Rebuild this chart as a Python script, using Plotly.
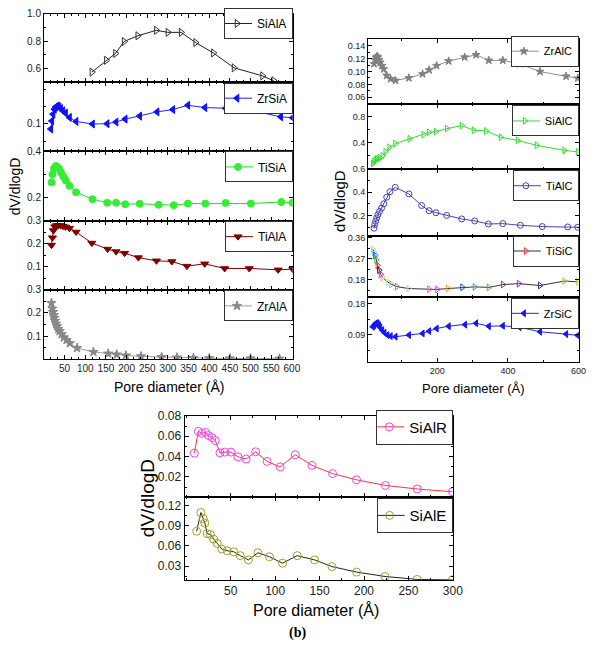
import plotly.graph_objects as go

# ---------------- data ----------------
SiAlA_x = [116, 151, 173, 194, 227, 272, 300, 332, 367, 410, 460, 529, 556]
SiAlA_y = [0.574, 0.66, 0.71, 0.798, 0.84, 0.88, 0.865, 0.865, 0.79, 0.714, 0.605, 0.546, 0.51]

ZrSiA_x = [16.6, 19, 22.1, 25.3, 28.5, 32.5, 36.4, 40.4, 46, 52.3, 61.8, 77.7, 117.4, 153, 174.5, 196.7, 231.7, 273.8, 311.9, 348.3, 389.6, 439.6, 496.7, 572.9, 602]
ZrSiA_y = [0.0924, 0.104, 0.1138, 0.121, 0.1243, 0.1257, 0.1243, 0.1219, 0.1186, 0.1153, 0.109, 0.1033, 0.0996, 0.1, 0.1024, 0.1067, 0.111, 0.1171, 0.1205, 0.1267, 0.1233, 0.1224, 0.12, 0.11, 0.1086]

TiSiA_x = [18.2, 20.6, 24.5, 28.5, 32.5, 36.4, 41.2, 46.7, 53.1, 61.8, 77.7, 117.4, 153, 174.5, 196.7, 231.7, 277.7, 314.2, 348.3, 390.4, 439.6, 500.7, 574.5, 602]
TiSiA_y = [0.266, 0.301, 0.326, 0.337, 0.333, 0.326, 0.309, 0.291, 0.274, 0.251, 0.223, 0.193, 0.178, 0.178, 0.171, 0.173, 0.169, 0.167, 0.174, 0.174, 0.177, 0.174, 0.181, 0.178]

TiAlA_x = [18.2, 20.6, 22.9, 26.1, 30.1, 34.9, 40.4, 46, 52.3, 61.8, 77.7, 115.8, 153.9, 174.5, 195.2, 228.5, 272.2, 309.5, 346, 388.9, 437.3, 496.8, 566.7, 602]
TiAlA_y = [0.194, 0.226, 0.257, 0.274, 0.279, 0.279, 0.279, 0.276, 0.273, 0.267, 0.251, 0.203, 0.177, 0.166, 0.159, 0.14, 0.126, 0.123, 0.103, 0.113, 0.093, 0.093, 0.087, 0.09]

ZrAlA_x = [18.2, 20.6, 22.1, 23.7, 25.3, 26.9, 29.3, 31.7, 34.9, 38, 42.8, 48.3, 54.7, 62.6, 80, 119.7, 155.4, 176, 198.3, 234.8, 284.8, 322, 361.7, 400, 450, 500, 570]
ZrAlA_y = [0.243, 0.219, 0.204, 0.19, 0.179, 0.166, 0.154, 0.143, 0.131, 0.121, 0.108, 0.094, 0.083, 0.069, 0.048, 0.031, 0.024, 0.02, 0.016, 0.012, 0.009, 0.007, 0.005, 0.004, 0.003, 0.003, 0.002]

ZrAlC_x = [20.9, 23.7, 26.5, 29.3, 32, 34.8, 38.5, 43, 48.6, 56.9, 67.9, 81.8, 119.7, 158.4, 176.9, 198.1, 232.3, 277.6, 309.9, 346, 385.6, 433.6, 490.9, 564.8, 598]
ZrAlC_y = [0.112, 0.118, 0.1219, 0.1234, 0.1223, 0.118, 0.1142, 0.109, 0.1038, 0.0937, 0.0885, 0.086, 0.09, 0.0962, 0.1023, 0.109, 0.1162, 0.1223, 0.126, 0.1172, 0.1172, 0.112, 0.0998, 0.0926, 0.0895]

SiAlC_x = [18, 21.8, 25.5, 29.3, 33.9, 38.5, 45, 53.3, 64.4, 81, 121.6, 161.2, 176.9, 196.3, 227.7, 269.3, 303.4, 338.5, 380, 428, 481.7, 560, 598]
SiAlC_y = [0.079, 0.114, 0.134, 0.144, 0.155, 0.164, 0.195, 0.255, 0.327, 0.383, 0.459, 0.524, 0.559, 0.57, 0.615, 0.661, 0.59, 0.58, 0.483, 0.433, 0.357, 0.281, 0.255]

TiAlC_x = [20.9, 22.8, 25.5, 28.3, 32, 36.6, 42.1, 48.6, 56.9, 66.1, 81, 119.7, 155.7, 176.9, 196.3, 226.7, 269.2, 306.1, 344.9, 385.5, 435.4, 497.2, 569.3, 598]
TiAlC_y = [0.092, 0.123, 0.151, 0.179, 0.207, 0.235, 0.263, 0.3, 0.356, 0.403, 0.44, 0.384, 0.285, 0.241, 0.224, 0.201, 0.171, 0.154, 0.128, 0.131, 0.117, 0.106, 0.103, 0.1]

TiSiC_x = [18, 21, 24, 27.5, 31, 35.5, 40, 45, 51, 60, 70, 86, 119, 177, 200, 230, 271, 306, 346, 386, 431, 491, 560, 598]
TiSiC_y = [0.31, 0.298, 0.284, 0.265, 0.242, 0.221, 0.203, 0.19, 0.18, 0.17, 0.16, 0.15, 0.142, 0.139, 0.138, 0.142, 0.147, 0.149, 0.147, 0.159, 0.163, 0.155, 0.174, 0.171]
TiSiC_colors = ['#ffcc33', '#66ddff', '#3355ff', '#33cc33', '#ff3333', '#222222', '#cc33aa', '#ff88cc',
                '#ffff66', '#aaeebb', '#aaaaaa', '#999999', '#cccccc', '#ff55cc', '#bb44ff', '#ff9933',
                '#3344cc', '#33aaaa', '#55bb44', '#cc3355', '#9933bb', '#333399', '#aacc33', '#cccc33']

ZrSiC_x = [17.2, 20.9, 24.6, 28.3, 31, 34.7, 38.4, 44, 50.4, 58.7, 68, 81.8, 119.7, 158.4, 176.9, 198.1, 232.3, 278.5, 309.9, 346, 385.6, 432.7, 490.9, 564.8, 598]
ZrSiC_y = [0.1136, 0.118, 0.123, 0.125, 0.123, 0.118, 0.1116, 0.1039, 0.0964, 0.0895, 0.0866, 0.0849, 0.0895, 0.0944, 0.101, 0.1087, 0.1154, 0.12, 0.124, 0.1154, 0.1165, 0.1125, 0.0992, 0.0924, 0.0886]

SiAlR_x = [9, 13.5, 17.5, 21.6, 24.9, 28.9, 32.6, 37.8, 43.3, 50.3, 58.1, 67.3, 78, 90.9, 105.6, 122.6, 141.4, 164.6, 191.6, 224, 259.8, 299.5]
SiAlR_y = [0.0434, 0.0648, 0.0628, 0.0638, 0.0606, 0.0586, 0.0557, 0.0437, 0.0444, 0.0444, 0.0398, 0.0376, 0.0447, 0.0353, 0.0298, 0.0418, 0.0314, 0.0233, 0.0172, 0.0117, 0.0082, 0.0055]

SiAlE_x = [11.6, 16.4, 19, 20.8, 23.4, 27.1, 30.8, 34.8, 40, 45.9, 53.3, 60.7, 69.9, 80.6, 93.5, 108.2, 124.8, 144.4, 163.9, 191.6, 223.6, 259.8, 299.5]
SiAlE_y = [0.0818, 0.1097, 0.1005, 0.094, 0.0784, 0.0769, 0.0701, 0.0638, 0.0554, 0.0529, 0.0514, 0.0456, 0.0393, 0.0499, 0.044, 0.0344, 0.0456, 0.0393, 0.0294, 0.0212, 0.0147, 0.0103, 0.0096]

LEFT_XTICKS = [50, 100, 150, 200, 250, 300, 350, 400, 450, 500, 550, 600]
RIGHT_XTICKS = [200, 400, 600]
BOTTOM_XTICKS = [50, 100, 150, 200, 250, 300]

# ---------------- layout helpers ----------------
W, H = 599, 647
FONT = "Arial, 'Liberation Sans', sans-serif"

def xd(l, r):
    return [l / W, r / W]

def yd(top, bot):
    return [1 - bot / H, 1 - top / H]

groups = {
    "L": dict(px=(44.7, 297.7), rng=[0, 602], ticks=LEFT_XTICKS, minor=50 / 3, tf=10, lf=12),
    "R": dict(px=(374.3, 588.7), rng=[4, 601], ticks=RIGHT_XTICKS, minor=100, tf=9, lf=11),
    "B": dict(px=(187.7, 461.0), rng=[-2, 300.5], ticks=BOTTOM_XTICKS, minor=25, tf=12, lf=15),
}

panels = [
    ("SiAlA", SiAlA_x, SiAlA_y, "L", 7, 76, [0.5, 1.0], [0.6, 0.8, 1.0], ".1f", 0.1, "triangle-right-open", "#333333", "#222222", 7, False),
    ("ZrSiA", ZrSiA_x, ZrSiA_y, "L", 76, 146, [0.06, 0.16], [0.1], ".1f", 0.025, "triangle-left", "#1010ff", "#2020ff", 7, False),
    ("TiSiA", TiSiA_x, TiSiA_y, "L", 146, 216, [0.1, 0.4], [0.2, 0.4], ".1f", 0.1, "circle", "#33ee33", "#22dd22", 7, False),
    ("TiAlA", TiAlA_x, TiAlA_y, "L", 216, 286, [0.0, 0.3], [0.1, 0.2, 0.3], ".1f", 0.05, "triangle-down", "#800000", "#800000", 7, False),
    ("ZrAlA", ZrAlA_x, ZrAlA_y, "L", 286, 356, [0.0, 0.3], [0.1, 0.2, 0.3], ".1f", 0.05, "star", "#888888", "#999999", 7, True),
    ("ZrAlC", ZrAlC_x, ZrAlC_y, "R", 32.7, 97.7, [0.05, 0.15], [0.06, 0.08, 0.10, 0.12, 0.14], ".2f", 0.01, "star", "#808080", "#909090", 6, False),
    ("SiAlC", SiAlC_x, SiAlC_y, "R", 97.7, 163.3, [0.0, 1.0], [0.4, 0.8], ".1f", 0.2, "triangle-right-open", "#33dd33", "#33dd33", 6, False),
    ("TiAlC", TiAlC_x, TiAlC_y, "R", 163.3, 231, [0.03, 0.6], [0.2, 0.4, 0.6], ".1f", 0.1, "circle-open", "#4444b8", "#4444b8", 6, False),
    ("TiSiC", TiSiC_x, TiSiC_y, "R", 231, 293.3, [0.105, 0.37], [0.18, 0.27, 0.36], ".2f", 0.045, "triangle-right-open", TiSiC_colors, "#333333", 6, False),
    ("ZrSiC", ZrSiC_x, ZrSiC_y, "R", 293.3, 359.3, [0.01, 0.2], [0.09, 0.18], ".2f", 0.045, "triangle-left", "#1515ff", "#2020ff", 6, True),
    ("SiAlR", SiAlR_x, SiAlR_y, "B", 413.3, 495.7, [0.0, 0.08], [0.02, 0.04, 0.06, 0.08], ".2f", 0.01, "circle-open", "#ee44ee", "#ff3333", 8, False),
    ("SiAlE", SiAlE_x, SiAlE_y, "B", 495.7, 579.3, [0.0094, 0.1322], [0.03, 0.06, 0.09, 0.12], ".2f", 0.015, "circle-open", "#a0a020", "#222222", 8, True),
]

legend_pos = {
    "SiAlA": (298, 1), "ZrSiA": (298, 76.5), "TiSiA": (298, 146), "TiAlA": (298, 216.5), "ZrAlA": (298, 286.5),
    "ZrAlC": (588.7, 29), "SiAlC": (588.7, 99.5), "TiAlC": (588.7, 165), "TiSiC": (588.7, 231), "ZrSiC": (588.7, 294),
    "SiAlR": (461, 407), "SiAlE": (460.3, 496.5),
}

fig = go.Figure()
layout = dict(
    width=W, height=H, margin=dict(l=0, r=0, t=0, b=0),
    paper_bgcolor="white", plot_bgcolor="white",
    font=dict(family=FONT, color="black"),
    showlegend=True,
)

for i, (name, xs, ys, g, top, bot, yr, yt, fmt, ymin, sym, mc, lc, ms, is_bottom) in enumerate(panels, start=1):
    G = groups[g]
    xa = "x" if i == 1 else f"x{i}"
    ya = "y" if i == 1 else f"y{i}"
    lg = "legend" if i == 1 else f"legend{i}"
    multi = isinstance(mc, list)
    fig.add_trace(go.Scatter(
        x=xs, y=ys, xaxis=xa, yaxis=ya, mode="lines+markers", name=name,
        line=dict(color=lc, width=1),
        marker=dict(symbol=sym, size=ms, color=mc, line=dict(color=mc, width=1)),
        legend=lg, showlegend=not multi,
    ))
    if multi:
        fig.add_trace(go.Scatter(
            x=[None], y=[None], xaxis=xa, yaxis=ya, mode="lines+markers", name=name,
            line=dict(color=lc, width=1),
            marker=dict(symbol=sym, size=ms, color="#ff3333", line=dict(color="#ff3333", width=1)),
            legend=lg, showlegend=True,
        ))
    axcommon = dict(showline=True, linecolor="black", linewidth=1, mirror="allticks",
                    ticks="inside", ticklen=4, tickcolor="black", showgrid=False, zeroline=False,
                    tickfont=dict(size=G["tf"], family=FONT, color="#222222"))
    layout["xaxis" if i == 1 else f"xaxis{i}"] = dict(
        axcommon, domain=xd(*G["px"]), range=G["rng"], anchor=ya,
        tickmode="array", tickvals=G["ticks"], showticklabels=is_bottom,
        minor=dict(ticks="inside", ticklen=2, dtick=G["minor"], tick0=0, tickcolor="black"),
    )
    layout["yaxis" if i == 1 else f"yaxis{i}"] = dict(
        axcommon, domain=yd(top, bot), range=yr, anchor=xa,
        tickmode="array", tickvals=yt, tickformat=fmt,
        minor=dict(ticks="inside", ticklen=2, dtick=ymin, tick0=0, tickcolor="black"),
    )
    rx, ty = legend_pos[name]
    layout[lg] = dict(
        x=rx / W, y=1 - ty / H, xanchor="right", yanchor="top",
        bgcolor="white", bordercolor="#333333", borderwidth=1,
        font=dict(size=G["lf"], family=FONT, color="black"),
        itemwidth=30, tracegroupgap=0, indentation=-8,
    )

ann = []
def text(x, y, s, size, angle=0, family=FONT, bold=False):
    ann.append(dict(x=x / W, y=1 - y / H, xref="paper", yref="paper", text=(f"<b>{s}</b>" if bold else s),
                    showarrow=False, textangle=angle, xanchor="center", yanchor="middle",
                    font=dict(size=size, family=family, color="black")))

text(171.7, 384, "Pore diameter (Å)", 14)
text(15, 181.5, "dV/dlogD", 14, angle=-90)
text(481.7, 386, "Pore diameter (Å)", 13)
text(346, 196, "dV/dlogD", 15, angle=-90)
text(321, 610, "Pore diameter (Å)", 16)
text(150, 496, "dV/dlogD", 19, angle=-90)
text(302.7, 633, "(b)", 14, family="'Times New Roman', 'Liberation Serif', serif", bold=True)
layout["annotations"] = ann

fig.update_layout(**layout)
fig.write_html("out.html")
